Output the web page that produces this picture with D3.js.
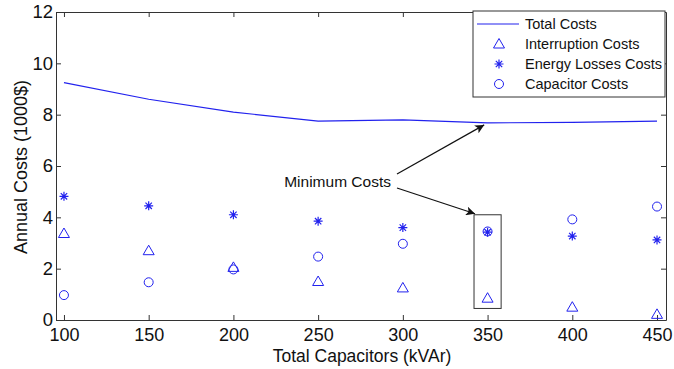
<!DOCTYPE html>
<html>
<head>
<meta charset="utf-8">
<script src="https://cdn.jsdelivr.net/npm/d3@7"></script>
<style>
  body { margin: 0; background: #fff; }
  svg { font-family: "Liberation Sans", Arial, sans-serif; }
</style>
</head>
<body>
<svg></svg>
<script>
let capacitors = [100, 150, 200, 250, 300, 350, 400, 450]
let totalCosts = [9.25, 8.6, 8.1, 7.75, 7.8, 7.68, 7.7, 7.75]
let interruptionCosts = [3.37, 2.7, 2.05, 1.5, 1.25, 0.85, 0.5, 0.22]
let energyCosts = [4.82, 4.45, 4.1, 3.85, 3.6, 3.42, 3.27, 3.12]
let capacitorCosts = [0.97, 1.47, 1.97, 2.47, 2.97, 3.45, 3.92, 4.42]
let xTicks = [100, 150, 200, 250, 300, 350, 400, 450]
let yTicks = [0, 2, 4, 6, 8, 10, 12]
let legendNames = ['Total Costs', 'Interruption Costs', 'Energy Losses Costs', 'Capacitor Costs']

let width = 674
let height = 369
let plotLeft = 56, plotRight = 666, plotTop = 12, plotBottom = 320
let blue = '#2222ee'
let axisColor = '#333'

let svg = d3.select('svg').attr('width', width).attr('height', height)

let xScale = d3.scaleLinear().domain([95.3, 455.3]).range([plotLeft, plotRight])
let yScale = d3.scaleLinear().domain([0, 12]).range([plotBottom, plotTop])

// axes on all four sides, ticks pointing inward
let axes = [
    [d3.axisBottom(xScale).tickValues(xTicks).tickSizeInner(-5), plotBottom, 'x', true],
    [d3.axisTop(xScale).tickValues(xTicks).tickSizeInner(-5), plotTop, 'x', false],
    [d3.axisLeft(yScale).tickValues(yTicks).tickSizeInner(-5), plotLeft, 'y', true],
    [d3.axisRight(yScale).tickValues(yTicks).tickSizeInner(-5), plotRight, 'y', false]
]
axes.forEach(([ax, pos, dir, labels]) => {
    let g = svg.append('g')
        .attr('transform', dir == 'x' ? 'translate(0,' + pos + ')' : 'translate(' + pos + ',0)')
        .call(ax.tickSizeOuter(0).tickPadding(dir == 'x' ? 8 : 3))
    g.select('.domain').attr('stroke', axisColor)
    g.selectAll('line').attr('stroke', axisColor)
    g.selectAll('text').attr('font-size', dir == 'x' ? 18 : 18.5).attr('fill', '#111')
        .attr('font-family', '"Liberation Sans", Arial, sans-serif')
    if (!labels) g.selectAll('text').remove()
})

// axis titles
svg.append('text')
    .attr('x', 362).attr('y', 362)
    .attr('text-anchor', 'middle').attr('font-size', 17.5).attr('fill', '#111')
    .text('Total Capacitors (kVAr)')
svg.append('text')
    .attr('transform', 'translate(27,167) rotate(-90)')
    .attr('text-anchor', 'middle').attr('font-size', 18).attr('fill', '#111')
    .text('Annual Costs (1000$)')

// total costs line
let line = d3.line().x((d, i) => xScale(capacitors[i])).y(d => yScale(d))
svg.append('path')
    .datum(totalCosts)
    .attr('d', line)
    .attr('fill', 'none').attr('stroke', blue).attr('stroke-width', 1.2)

// markers
let triangle = 'M0,-5.5L5.5,4L-5.5,4Z'
let star = 'M-4.5,0H4.5M0,-4.5V4.5M-3.2,-3.2L3.2,3.2M-3.2,3.2L3.2,-3.2'

svg.selectAll('.tri')
    .data(interruptionCosts).enter().append('path')
    .attr('class', 'tri')
    .attr('transform', (d, i) => 'translate(' + xScale(capacitors[i]) + ',' + yScale(d) + ')')
    .attr('d', triangle).attr('fill', 'none').attr('stroke', blue).attr('stroke-width', 1)

svg.selectAll('.star')
    .data(energyCosts).enter().append('path')
    .attr('class', 'star')
    .attr('transform', (d, i) => 'translate(' + xScale(capacitors[i]) + ',' + yScale(d) + ')')
    .attr('d', star).attr('fill', 'none').attr('stroke', blue).attr('stroke-width', 1.2)

svg.selectAll('.circ')
    .data(capacitorCosts).enter().append('circle')
    .attr('class', 'circ')
    .attr('cx', (d, i) => xScale(capacitors[i]))
    .attr('cy', d => yScale(d))
    .attr('r', 4.5).attr('fill', 'none').attr('stroke', blue).attr('stroke-width', 1)

// annotation
let defs = svg.append('defs')
defs.append('marker')
    .attr('id', 'arrow').attr('viewBox', '0 0 10 10')
    .attr('refX', 10).attr('refY', 5)
    .attr('markerWidth', 14).attr('markerHeight', 9)
    .attr('markerUnits', 'userSpaceOnUse')
    .attr('orient', 'auto')
    .append('path').attr('d', 'M0,0L10,5L0,10L2.5,5Z').attr('fill', '#111')

svg.append('rect')
    .attr('x', xScale(342)).attr('y', yScale(4.1))
    .attr('width', xScale(358) - xScale(342))
    .attr('height', yScale(0.45) - yScale(4.1))
    .attr('fill', 'none').attr('stroke', '#333').attr('stroke-width', 1)

svg.append('text')
    .attr('x', 391).attr('y', 187)
    .attr('text-anchor', 'end').attr('font-size', 15.5).attr('fill', '#111')
    .text('Minimum Costs')

svg.append('line')
    .attr('x1', 397).attr('y1', 174)
    .attr('x2', xScale(348)).attr('y2', yScale(7.68) + 2)
    .attr('stroke', '#111').attr('stroke-width', 1.2)
    .attr('marker-end', 'url(#arrow)')
svg.append('line')
    .attr('x1', 397).attr('y1', 188)
    .attr('x2', xScale(342) + 1).attr('y2', yScale(4.1) - 1)
    .attr('stroke', '#111').attr('stroke-width', 1.2)
    .attr('marker-end', 'url(#arrow)')

// legend
let legend = svg.append('g').attr('transform', 'translate(473,11)')
legend.append('rect')
    .attr('width', 192).attr('height', 86)
    .attr('fill', '#fff').attr('stroke', '#333').attr('stroke-width', 1)

legendNames.forEach((name, i) => {
    let y = 13 + i * 20
    let g = legend.append('g').attr('transform', 'translate(26,' + y + ')')
    if (i == 0) {
        g.append('line').attr('x1', -22).attr('x2', 20).attr('stroke', blue).attr('stroke-width', 1.2)
    } else if (i == 1) {
        g.append('path').attr('d', triangle).attr('fill', 'none').attr('stroke', blue)
    } else if (i == 2) {
        g.append('path').attr('d', star).attr('fill', 'none').attr('stroke', blue).attr('stroke-width', 1.2)
    } else {
        g.append('circle').attr('r', 4.5).attr('fill', 'none').attr('stroke', blue)
    }
    legend.append('text')
        .attr('x', 52).attr('y', y + 5)
        .attr('font-size', 14.5).attr('fill', '#111')
        .text(name)
})
</script>
</body>
</html>
